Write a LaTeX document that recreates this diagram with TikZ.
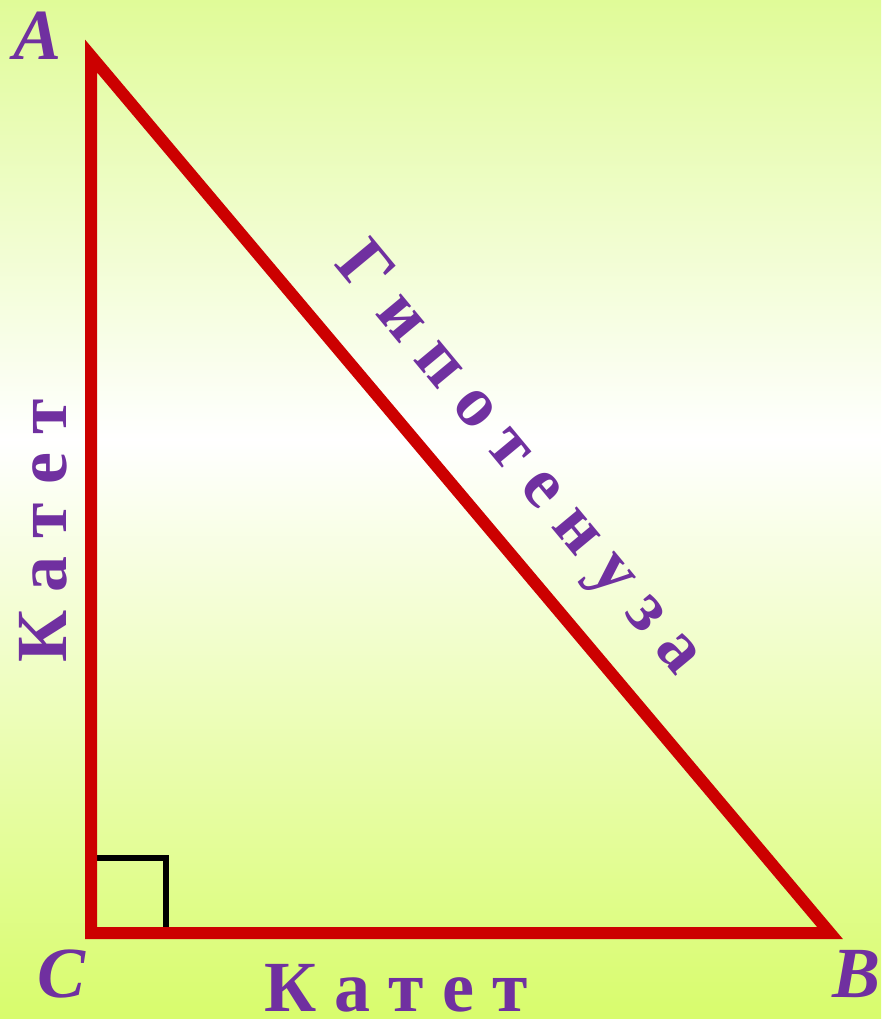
\documentclass[tikz,border=0pt]{standalone}
\usepackage{fontspec}
\setmainfont{Liberation Serif}
\begin{document}
\begin{tikzpicture}[x=1pt,y=-1pt,
  side/.style={draw=triRed,line width=12pt,line join=miter},
  rightmark/.style={draw=black,line width=6pt},
  word/.style={text=labPurple,font=\fontsize{72}{80}\selectfont\bfseries,inner sep=0pt,anchor=base},
  vname/.style={text=labPurple,font=\fontsize{72}{80}\selectfont\bfseries\itshape,inner sep=0pt,anchor=base}]
\definecolor{triRed}{HTML}{CC0000}
\definecolor{labPurple}{HTML}{7030A0}
\definecolor{bgTop}{HTML}{E0FB98}
\definecolor{bgBot}{HTML}{D8FC6C}
\useasboundingbox (0,0) rectangle (881,1019);
\shade[top color=bgTop,bottom color=white] (0,0) rectangle (881,440);
\shade[top color=white,bottom color=bgBot] (0,439) rectangle (881,1019);
\coordinate (A) at (91,56);
\coordinate (C) at (91,933);
\coordinate (B) at (830,933);
\coordinate (R1) at (91,858);
\coordinate (R2) at (166,858);
\coordinate (R3) at (166,933);
\draw[rightmark] (R1) -- (R2) -- (R3);
\draw[side] (A) -- (C) -- (B) -- cycle;
\node[vname] (lA) at (38,60) {A};
\node[vname] (lC) at (62,997) {C};
\node[vname] (lB) at (856,997) {B};
\node[word,rotate=90] (leg1) at (66,531) {К а т е т};
\node[word,text depth=0pt] (leg2) at (396,1011) {К а т е т};
\node[word,rotate=-50.3] (hyp) at (505,471) {Г и п о т е н у з а};
\end{tikzpicture}
\end{document}
